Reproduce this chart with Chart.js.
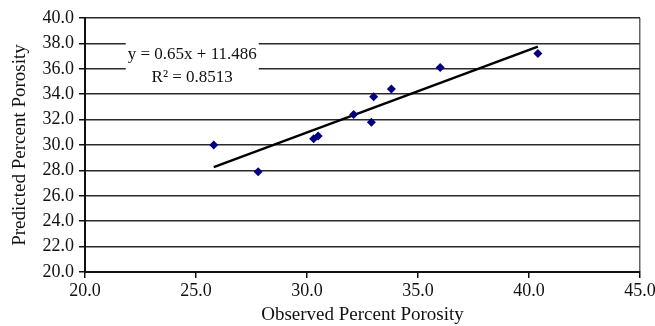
<!DOCTYPE html>
<html lang="en">
<head>
  <meta charset="UTF-8">
  <title>Observed vs Predicted Porosity</title>
  <script src="https://cdn.jsdelivr.net/npm/chart.js"></script>
  <style>
    html, body { margin: 0; padding: 0; background: #fff; }
    #wrap { width: 655px; height: 326px; }
  </style>
</head>
<body>
  <div id="wrap"><canvas id="canvas"></canvas></div>

  <script>
    // observed vs predicted porosity (%)
    const observed  = [25.8, 27.8, 30.3, 30.5, 32.1, 32.9, 33.0, 33.8, 36.0, 40.4];
    const predicted = [30.0, 27.9, 30.5, 30.7, 32.4, 31.8, 33.8, 34.4, 36.1, 37.2];

    // linear trendline endpoints
    const trendX = [25.8, 40.4];
    const trendY = [28.26, 37.75];

    const xTicks = [20, 25, 30, 35, 40, 45];
    const yTicks = [20, 22, 24, 26, 28, 30, 32, 34, 36, 38, 40];

    const equationLines = ["y = 0.65x + 11.486", "R\u00B2 = 0.8513"];

    const serif = "'Liberation Serif', 'Times New Roman', serif";

    const scatterData = observed.map((x, i) => ({ x: x, y: predicted[i] }));
    const trendData = trendX.map((x, i) => ({ x: x, y: trendY[i] }));

    // draws the white box with the trendline equation
    const equationBox = {
      id: "equationBox",
      afterDatasetsDraw(chart) {
        const ctx = chart.ctx;
        const xs = chart.scales.x, ys = chart.scales.y;
        const cx = xs.getPixelForValue(24.83);
        const yTop = ys.getPixelForValue(38.6);
        const yBot = ys.getPixelForValue(35.0);
        ctx.save();
        ctx.font = "17px " + serif;
        const w = Math.max(...equationLines.map(t => ctx.measureText(t).width)) + 4;
        ctx.fillStyle = "#fff";
        ctx.fillRect(cx - w / 2, yTop, w, yBot - yTop);
        ctx.fillStyle = "#111";
        ctx.textAlign = "center";
        ctx.textBaseline = "middle";
        ctx.fillText(equationLines[0], cx, ys.getPixelForValue(37.1));
        ctx.fillText(equationLines[1], cx, ys.getPixelForValue(35.3));
        ctx.restore();
      }
    };

    window.onload = function () {
      const ctx = document.getElementById("canvas").getContext("2d");
      new Chart(ctx, {
        type: "scatter",
        data: {
          datasets: [
            {
              label: "Porosity",
              data: scatterData,
              pointStyle: "rectRot",
              pointRadius: 4.5,
              backgroundColor: "#000080",
              borderColor: "#000080",
              borderWidth: 0,
              order: 1
            },
            {
              label: "Linear",
              type: "line",
              data: trendData,
              borderColor: "#000",
              borderWidth: 2.5,
              pointRadius: 0,
              fill: false,
              order: 2
            }
          ]
        },
        options: {
          responsive: true,
          maintainAspectRatio: false,
          animation: false,
          layout: { padding: { left: 0, right: 15, top: 18, bottom: 0 } },
          plugins: {
            legend: { display: false },
            tooltip: { enabled: false }
          },
          scales: {
            x: {
              type: "linear",
              min: 20,
              max: 45,
              afterBuildTicks: s => { s.ticks = xTicks.map(v => ({ value: v })); },
              afterFit: s => { s.height = 54; s.paddingLeft = 0; s.paddingRight = 0; },
              ticks: {
                color: "#111",
                padding: 2,
                font: { family: serif, size: 18 },
                callback: v => Number(v).toFixed(1)
              },
              grid: {
                drawOnChartArea: true,
                color: ctx => ctx.tick && ctx.tick.value === 45 ? "#666" : "rgba(0,0,0,0)",
                tickColor: "#111",
                tickLength: 6,
                lineWidth: 1.5
              },
              border: { display: true, color: "#111", width: 2 },
              title: {
                display: true,
                text: "Observed Percent Porosity",
                color: "#111",
                font: { family: serif, size: 19 },
                padding: { top: 2, bottom: 0 }
              }
            },
            y: {
              type: "linear",
              min: 20,
              max: 40,
              afterBuildTicks: s => { s.ticks = yTicks.map(v => ({ value: v })); },
              afterFit: s => { s.width = 85; s.paddingTop = 0; s.paddingBottom = 0; },
              ticks: {
                color: "#111",
                padding: 5,
                font: { family: serif, size: 18 },
                callback: v => Number(v).toFixed(1)
              },
              grid: {
                color: "#2a2a2a",
                tickColor: "#111",
                tickLength: 6,
                lineWidth: 1.5
              },
              border: { display: true, color: "#111", width: 2 },
              title: {
                display: true,
                text: "Predicted Percent Porosity",
                color: "#111",
                font: { family: serif, size: 19 },
                padding: { top: 9, bottom: 0 }
              }
            }
          }
        },
        plugins: [equationBox]
      });
    };
  </script>
</body>
</html>
